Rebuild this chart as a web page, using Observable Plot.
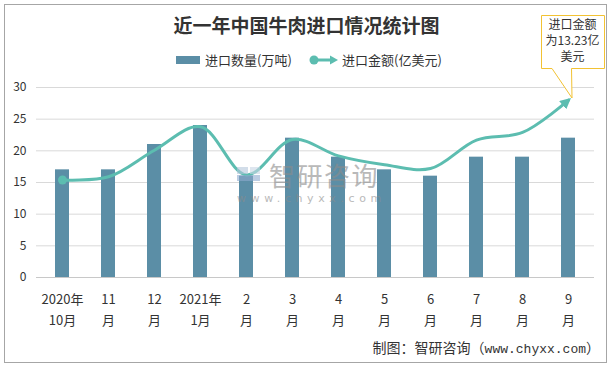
<!DOCTYPE html>
<html><head><meta charset="utf-8">
<script src="https://cdn.jsdelivr.net/npm/d3@7"></script>
<script src="https://cdn.jsdelivr.net/npm/@observablehq/plot@0.6"></script>
<style>
body{margin:0;background:#fff;}
#wrap{position:relative;width:613px;height:368px;font-family:"Noto Sans CJK SC","Noto Sans",sans-serif;color:#333;overflow:hidden;}
#frame{position:absolute;left:4px;top:4px;width:603px;height:359px;border:1px solid #a6a6a6;box-sizing:border-box;}
#chart{position:absolute;left:0;top:0;}
#title{position:absolute;left:0;top:12px;width:613px;text-align:center;font-size:19px;font-weight:700;color:#333;line-height:26px;}
#legend{position:absolute;top:51px;left:0;width:613px;height:18px;font-size:13px;line-height:18px;}
.li{position:absolute;top:0;white-space:nowrap;}
#note{position:absolute;left:0;top:0;}
.notetxt{position:absolute;left:541px;top:16px;width:63px;text-align:center;font-size:12px;line-height:16px;color:#333;}
#footer{position:absolute;right:13px;top:337px;font-size:14px;line-height:20px;color:#333;white-space:nowrap;}
#footer .u{font-family:"Liberation Mono",monospace;font-size:13px;}
#wm{position:absolute;left:234px;top:157px;opacity:0.6;pointer-events:none;}
#wm svg{overflow:visible;}
</style></head><body>
<div id="wrap">
  <div id="frame"></div>
  <div id="chart"></div>
  <div id="title">近一年中国牛肉进口情况统计图</div>
  <div id="legend">
    <div class="li" style="left:176px;"><svg width="25" height="18" style="vertical-align:top"><rect x="0" y="5" width="24" height="8" fill="#5b8ea6"/></svg><span style="position:absolute;left:29px;top:0">进口数量(万吨)</span></div>
    <div class="li" style="left:309px;"><svg width="32" height="18" style="vertical-align:top"><line x1="4" y1="9" x2="23" y2="9" stroke="#5cbdb0" stroke-width="3"/><circle cx="5" cy="9" r="4.5" fill="#5cbdb0"/><path d="M21,4.5 L29,9 L21,13.5 Z" fill="#5cbdb0"/></svg><span style="position:absolute;left:33px;top:0">进口金额(亿美元)</span></div>
  </div>
  <div id="wm">
    <svg width="180" height="52">
      <rect x="3" y="10" width="11" height="7" fill="#b5c7dc"/>
      <rect x="16" y="10" width="10" height="7" fill="#c9d6e5"/>
      <rect x="3" y="18" width="23" height="6" fill="#8fabcf"/>
      <text x="35" y="29" font-size="26" fill="#8c8c8c" letter-spacing="1.5" font-family="Noto Sans CJK SC">智研咨询</text>
      <text x="3" y="45" font-size="11" fill="#8c8c8c" letter-spacing="4.6" font-family="DejaVu Sans">www.chyxx.com</text>
    </svg>
  </div>
  <svg id="note" width="613" height="110">
    <path d="M541.5,15.5 H604.5 V68.5 H571.5 L572,98 L552,68.5 H541.5 Z" fill="#fff" stroke="#f2c233" stroke-width="1"/>
  </svg>
  <div class="notetxt">进口金额<br>为13.23亿<br>美元</div>
  <div id="footer">制图：智研咨询（<span class="u">www.chyxx.com</span>）</div>
</div>
<script>
const months = ["2020年\n10月","11\n月","12\n月","2021年\n1月","2\n月","3\n月","4\n月","5\n月","6\n月","7\n月","8\n月","9\n月"];
const quantity = [17,17,21,24,16,22,19,17,16,19,19,22];
const amount = [15.4,15.9,20.1,23.8,16.2,21.8,19.2,17.8,17.2,21.7,22.9,28];
const yTicks = [0,5,10,15,20,25,30];

const rows = months.map((m,i)=>({month:m, q:quantity[i], a:amount[i]}));
const barColor = "#5b8ea6", lineColor = "#5cbdb0";

const plot = Plot.plot({
  width: 613, height: 368,
  marginLeft: 36, marginRight: 19, marginTop: 87, marginBottom: 91,
  style: {background: "transparent", fontFamily: "'Noto Sans CJK SC', sans-serif", color: "#333"},
  x: {domain: months, paddingInner: 0.69, paddingOuter: 0.345, label: null},
  y: {domain: [0,30], label: null},
  marks: [
    Plot.ruleY(yTicks.filter(d=>d>0), {stroke: "#d9d9d9", strokeWidth: 1}),
    Plot.ruleY([0], {stroke: "#c8c8c8", strokeWidth: 1}),
    Plot.barY(rows, {x: "month", y: "q", fill: barColor}),
    Plot.line(rows, {x: "month", y: "a", stroke: lineColor, strokeWidth: 3, curve: "catmull-rom"}),
    Plot.dot(rows.slice(0,1), {x: "month", y: "a", r: 4.5, fill: lineColor}),
    Plot.axisY({ticks: yTicks, tickSize: 0, tickPadding: 10, fontSize: 12, fill: "#333"}),
    Plot.axisX({tickSize: 0, tickPadding: 12, fontSize: 13, lineHeight: 1.6, fill: "#333"})
  ]
});
document.getElementById("chart").appendChild(plot);

// filled arrowhead at the end of the amount line
const svg = d3.select(plot);
const defs = svg.insert("defs", ":first-child");
defs.append("marker").attr("id","arrowEnd")
  .attr("viewBox","0 0 10 10").attr("markerUnits","userSpaceOnUse")
  .attr("markerWidth",11).attr("markerHeight",11)
  .attr("refX",7).attr("refY",5).attr("orient","auto")
  .append("path").attr("d","M0,0 L10,5 L0,10 Z").attr("fill",lineColor);
svg.selectAll('g[aria-label="line"] path').attr("marker-end","url(#arrowEnd)");
</script>
</body></html>
